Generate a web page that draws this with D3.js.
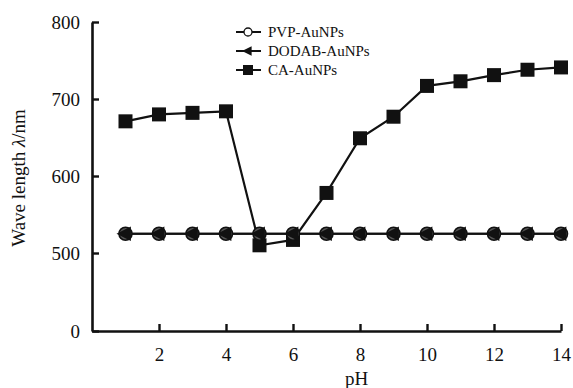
<!DOCTYPE html>
<html>
<head>
<meta charset="utf-8">
<script src="https://cdn.jsdelivr.net/npm/d3@7"></script>
<style>
  body { margin: 0; background: #fff; }
  svg text { font-family: "Liberation Serif", "Times New Roman", "DejaVu Serif", serif; fill: #111; }
</style>
</head>
<body>
<div id="chart"></div>
<script>
const pH = [1, 2, 3, 4, 5, 6, 7, 8, 9, 10, 11, 12, 13, 14];
const pvp = [525, 525, 525, 525, 525, 525, 525, 525, 525, 525, 525, 525, 525, 525];
const dodab = [525, 525, 525, 525, 525, 525, 525, 525, 525, 525, 525, 525, 525, 525];
const ca = [671, 680, 682, 684, 510, 517, 578, 649, 677, 717, 723, 731, 738, 741];
const xTicks = [2, 4, 6, 8, 10, 12, 14];
const yTicks = [0, 500, 600, 700, 800];
const seriesNames = ["PVP-AuNPs", "DODAB-AuNPs", "CA-AuNPs"];

const serif = "'Liberation Serif', 'Times New Roman', 'DejaVu Serif', serif";
const width = 573, height = 388;
const svg = d3.select("#chart").append("svg")
  .attr("width", width).attr("height", height)
  .attr("font-family", serif);

// x: 0..14, y axis is broken, 0 sits one tick-step below 500
let x = d3.scaleLinear().domain([0, 14]).range([92, 561]);
let y = d3.scaleLinear().domain([0, 500, 800]).range([331, 253, 22]);

// axes
const xAxis = svg.append("g")
  .attr("transform", "translate(0," + y(0) + ")")
  .call(d3.axisBottom(x).tickValues(xTicks).tickSizeInner(-7).tickSizeOuter(0).tickPadding(17));
const yAxis = svg.append("g")
  .attr("transform", "translate(" + x(0) + ",0)")
  .call(d3.axisLeft(y).tickValues(yTicks).tickSizeInner(-7).tickSizeOuter(0).tickPadding(12));

[xAxis, yAxis].forEach(g => {
  g.attr("font-family", serif).attr("font-size", 19);
  g.select(".domain").attr("stroke", "#111").attr("stroke-width", 2.6);
  g.selectAll(".tick line").attr("stroke", "#111").attr("stroke-width", 2.4);
  g.selectAll(".tick text").attr("fill", "#111");
});

// axis titles
svg.append("text")
  .attr("x", x(7.9)).attr("y", 385)
  .attr("text-anchor", "middle").attr("font-size", 19).text("pH");

const yt = svg.append("text")
  .attr("transform", "translate(25," + 178 + ") rotate(-90)")
  .attr("text-anchor", "middle").attr("font-size", 19);
yt.append("tspan").text("Wave length ");
yt.append("tspan").attr("font-style", "italic").text("λ");
yt.append("tspan").text("/nm");

const line = d3.line().x((d, i) => x(pH[i])).y(d => y(d));

function drawLine(vals) {
  svg.append("path").datum(vals)
    .attr("d", line)
    .attr("fill", "none").attr("stroke", "#111").attr("stroke-width", 2.2);
}

const tri = (cx, cy, s) => `M${cx - s},${cy} L${cx + s * 0.6},${cy - s * 0.8} L${cx + s * 0.6},${cy + s * 0.8} Z`;

function circleMark(g, cx, cy) {
  g.append("circle").attr("cx", cx).attr("cy", cy).attr("r", 6.5)
    .attr("fill", "#555").attr("stroke", "#111").attr("stroke-width", 1.6);
}
function triMark(g, cx, cy) {
  g.append("path").attr("d", tri(cx, cy, 9)).attr("fill", "#111");
}
function squareMark(g, cx, cy) {
  g.append("rect").attr("x", cx - 7).attr("y", cy - 7)
    .attr("width", 14).attr("height", 14).attr("fill", "#111");
}

// CA line + squares
drawLine(ca);
const gca = svg.append("g");
ca.forEach((v, i) => squareMark(gca, x(pH[i]), y(v)));

// PVP and DODAB overlap
drawLine(pvp);
drawLine(dodab);
const gp = svg.append("g");
pvp.forEach((v, i) => circleMark(gp, x(pH[i]), y(v)));
const gd = svg.append("g");
dodab.forEach((v, i) => triMark(gd, x(pH[i]), y(v)));

// legend
const legY = [32, 51, 70];
const leg = svg.append("g");
seriesNames.forEach((name, i) => {
  leg.append("line").attr("x1", 236).attr("x2", 261)
    .attr("y1", legY[i]).attr("y2", legY[i])
    .attr("stroke", "#111").attr("stroke-width", 2);
  if (i === 0) {
    leg.append("circle").attr("cx", 248).attr("cy", legY[i]).attr("r", 4)
      .attr("fill", "#fff").attr("stroke", "#111").attr("stroke-width", 1.3);
  } else if (i === 1) {
    leg.append("path").attr("d", tri(248, legY[i], 6)).attr("fill", "#111");
  } else {
    leg.append("rect").attr("x", 243).attr("y", legY[i] - 5)
      .attr("width", 10).attr("height", 10).attr("fill", "#111");
  }
  leg.append("text").attr("x", 268).attr("y", legY[i] + 5)
    .attr("font-size", 15).text(name);
});
</script>
</body>
</html>
